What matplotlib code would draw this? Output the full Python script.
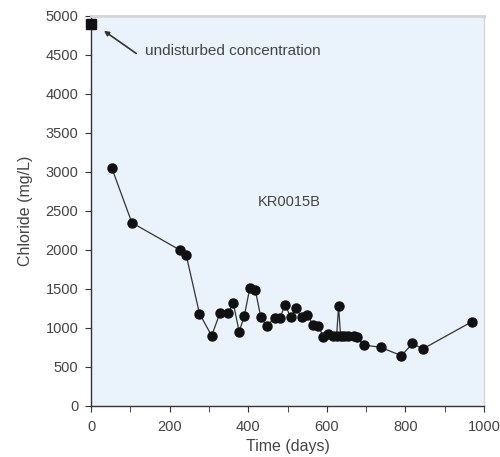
import matplotlib
matplotlib.use("Agg")
import matplotlib.pyplot as plt
from matplotlib.ticker import MultipleLocator

plt.rcParams['font.family'] = ['Liberation Sans', 'DejaVu Sans']

# Undisturbed concentration (single marker)
undisturbed_day = [0]
undisturbed_cl = [4900]

# Time series for KR0015B
days = [53, 104, 226, 242, 276, 307, 328, 349, 362, 377, 390, 404, 418, 432, 447,
        468, 481, 494, 508, 522, 536, 550, 566, 578, 591, 604, 617, 625, 630, 635,
        645, 655, 668, 676, 695, 737, 790, 818, 844, 969]
chloride = [3050, 2350, 2000, 1940, 1185, 900, 1190, 1190, 1320, 955, 1150, 1510, 1490, 1140, 1026,
            1130, 1130, 1300, 1137, 1250, 1137, 1167, 1038, 1030, 889, 920, 900, 900, 1280, 900,
            900, 900, 900, 885, 782, 752, 645, 803, 731, 1080]

fig = plt.figure(figsize=(5.0, 4.57), dpi=100)
ax = fig.add_axes([0.182, 0.1116, 0.786, 0.8534])
ax.set_facecolor('#eaf2fb')

ax.plot(days, chloride, '-', color='#333333', lw=0.9, marker='o', ms=6.5,
        mfc='#111111', mec='#111111', zorder=3, clip_on=False)
ax.plot(undisturbed_day, undisturbed_cl, 's', color='#111111', ms=7, zorder=4, clip_on=False)

ax.set_xlim(0, 1000)
ax.set_ylim(0, 5000)
ax.xaxis.set_major_locator(MultipleLocator(200))
ax.xaxis.set_minor_locator(MultipleLocator(100))
ax.yaxis.set_major_locator(MultipleLocator(500))
ax.tick_params(axis='both', which='both', direction='out', colors='#333333', labelsize=10.5,
               labelcolor='#444444', length=4)
ax.tick_params(axis='x', which='major', pad=6)
ax.tick_params(axis='y', which='major', pad=5)

for s in ['left', 'bottom']:
    ax.spines[s].set_color('#333333')
    ax.spines[s].set_linewidth(1.0)
ax.spines['top'].set_color('#d5d5d5')
ax.spines['top'].set_linewidth(2.0)
ax.spines['right'].set_color('#d5d5d5')
ax.spines['right'].set_linewidth(1.0)

ax.set_xlabel('Time (days)', fontsize=11.5, color='#444444', labelpad=4)
ax.set_ylabel('Chloride (mg/L)', fontsize=11.5, color='#444444', labelpad=9)

ax.annotate('', xy=(33, 4810), xytext=(115, 4520),
            arrowprops=dict(arrowstyle='-|>', color='#333333', lw=1.2,
                            mutation_scale=7, shrinkA=0, shrinkB=0))
ax.text(138, 4550, 'undisturbed concentration', fontsize=11, color='#444444',
        va='center', ha='left')
ax.text(505, 2620, 'KR0015B', fontsize=10.5, color='#444444', ha='center', va='center')

fig.savefig('out.png', dpi=100)
